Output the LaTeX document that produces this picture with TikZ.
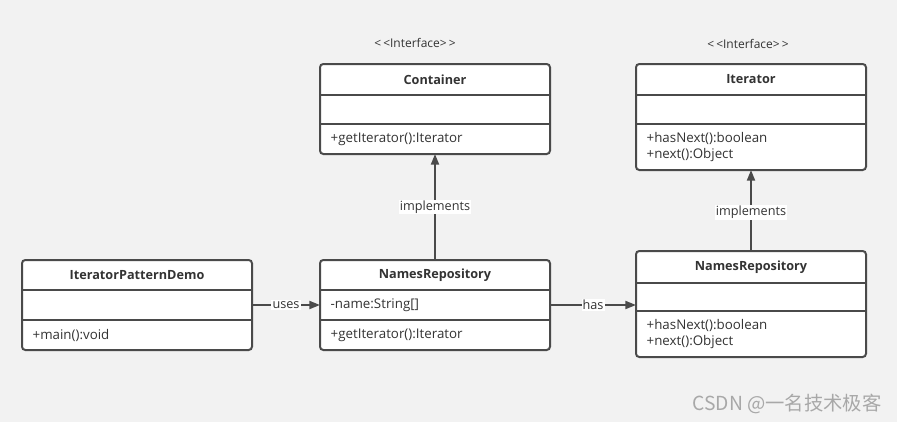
\documentclass[tikz,border=0pt]{standalone}
\usepackage{fontspec}
\setmainfont{Open Sans}
\newfontfamily\cjk{Noto Sans CJK SC}
\usepackage{tikz}
\usetikzlibrary{positioning,arrows.meta,backgrounds}

\definecolor{bgcol}{HTML}{F2F2F2}
\definecolor{linecol}{HTML}{4A4A4A}
\definecolor{txtcol}{HTML}{333333}
\definecolor{markcol}{HTML}{A8A8A8}

\begin{document}
\begin{tikzpicture}[
    x=0.75pt, y=-0.75pt,
    head/.style={rectangle, minimum width=172.5pt, minimum height=#1, inner sep=0pt, outer sep=0pt, text=txtcol, font=\fontsize{9.5}{12}\selectfont\bfseries},
    sect/.style={rectangle, minimum width=172.5pt, minimum height=#1, inner xsep=8pt, inner ysep=0pt, outer sep=0pt, text width=156.5pt, align=left, text=txtcol, font=\fontsize{10}{12}\selectfont},
    frame/.style={draw=linecol, line width=1.5pt, fill=white, rounded corners=2.5pt},
    divider/.style={draw=linecol, line width=1.5pt},
    stereo/.style={text=txtcol, font=\fontsize{9}{10}\selectfont},
    arrow/.style={-{Triangle[length=8pt,width=6pt]}, line width=1.5pt, linecol},
    lbl/.style={fill=white, inner sep=0.8pt, text=txtcol, font=\fontsize{9.5}{10}\selectfont},
]
    \useasboundingbox (0,0) rectangle (897,422);
    \begin{scope}[on background layer]
        \fill[bgcol] (0,0) rectangle (897,422);
    \end{scope}

    % Interfaces
    \node[stereo] (cont-st) at (415,43) {{<}\,{<}Interface{>}\,{>}};
    \node[head=23.25pt] (cont) at (435,79.5) {Container};
    \node[sect=21.75pt, below=0pt of cont] (cont-a) {};
    \node[sect=22.5pt, below=0pt of cont-a] (cont-o) {+getIterator():Iterator};

    \node[stereo] (iter-st) at (748,44) {{<}\,{<}Interface{>}\,{>}};
    \node[head=23.25pt] (iter) at (751,79.5) {Iterator};
    \node[sect=21.75pt, below=0pt of iter] (iter-a) {};
    \node[sect=34.5pt, below=0pt of iter-a] (iter-o) {+hasNext():boolean\\+next():Object};

    % Classes
    \node[head=22.5pt] (demo) at (137,275) {IteratorPatternDemo};
    \node[sect=22.5pt, below=0pt of demo] (demo-a) {};
    \node[sect=22.5pt, below=0pt of demo-a] (demo-o) {+main():void};

    \node[head=22.5pt] (repo) at (435,275) {NamesRepository};
    \node[sect=22.5pt, below=0pt of repo] (repo-a) {-name:String[]};
    \node[sect=22.5pt, below=0pt of repo-a] (repo-o) {+getIterator():Iterator};

    \node[head=24pt] (nrit) at (751,267) {NamesRepository};
    \node[sect=21pt, below=0pt of nrit] (nrit-a) {};
    \node[sect=34.5pt, below=0pt of nrit-a] (nrit-o) {+hasNext():boolean\\+next():Object};

    % Frames and dividers
    \begin{scope}[on background layer]
        \foreach \c in {cont,iter,demo,repo,nrit}
            \draw[frame] (\c.north west) rectangle (\c-o.south east);
    \end{scope}
    \foreach \c in {cont,iter,demo,repo,nrit} {
        \draw[divider] (\c.south west) -- (\c.south east);
        \draw[divider] (\c-a.south west) -- (\c-a.south east);
    }

    % Relations
    \draw[arrow] (repo.north) -- (cont-o.south) node[lbl, midway] {implements};
    \draw[arrow] (nrit.north) -- (iter-o.south) node[lbl, midway, yshift=-1.5pt] {implements};
    \draw[arrow] (demo-a.east) -- (repo-a.west) node[lbl, midway] {uses};
    \draw[arrow] (repo-a.east) -- (repo-a.east -| nrit.west) node[lbl, midway] {has};

    % Watermark
    \node[text=markcol, font=\cjk\fontsize{14.5}{16}\selectfont] (mark) at (787,404) {CSDN @一名技术极客};
\end{tikzpicture}
\end{document}
